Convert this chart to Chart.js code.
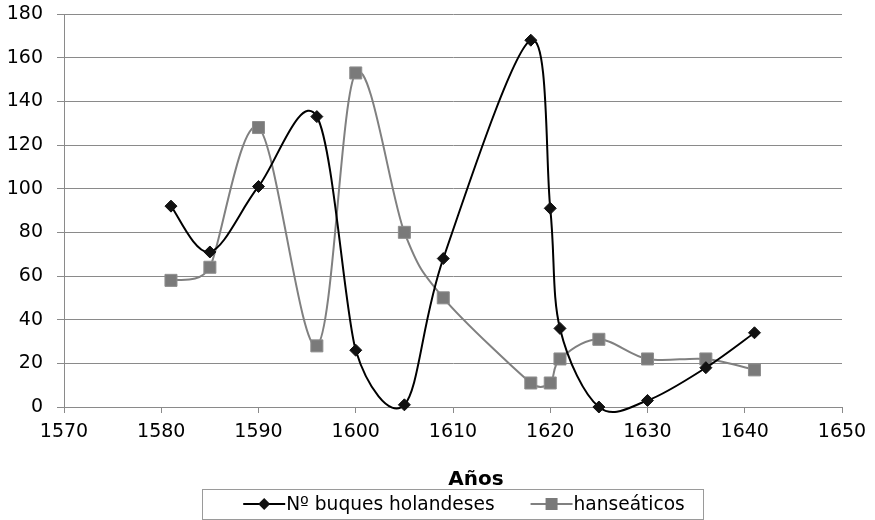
<!DOCTYPE html>
<html>
<head>
<meta charset="utf-8">
<script src="https://cdn.jsdelivr.net/npm/chart.js@4.4.1/dist/chart.umd.min.js"></script>
<style>
  html, body { margin: 0; padding: 0; background: #fff; }
  #caja { width: 875px; height: 520px; }
</style>
</head>
<body>
<div id="caja"><canvas id="graficaBuques" width="875" height="520"></canvas></div>
<script>
// datos
const anios = [1581, 1585, 1590, 1596, 1600, 1605, 1609, 1618, 1620, 1621, 1625, 1630, 1636, 1641];
const holandeses = [92, 71, 101, 133, 26, 1, 68, 168, 91, 36, 0, 3, 18, 34];
const hanseaticos = [58, 64, 128, 28, 153, 80, 50, 11, 11, 22, 31, 22, 22, 17];
const ticksX = [1570, 1580, 1590, 1600, 1610, 1620, 1630, 1640, 1650];
const ticksY = [0, 20, 40, 60, 80, 100, 120, 140, 160, 180];

const fuente = 'DejaVu Sans';

function puntos(valores) {
  return anios.map((a, i) => ({ x: a, y: valores[i] }));
}

// suavizado tipo hoja de calculo (catmull-rom 1/6) sobre los pixeles que da la escala
const suavizado = {
  id: 'suavizado',
  beforeDatasetsDraw(chart) {
    chart.data.datasets.forEach((d, di) => {
      const meta = chart.getDatasetMeta(di);
      const linea = meta.dataset;
      linea.updateControlPoints(chart.chartArea, 'x');
      const pts = meta.data;
      const n = pts.length;
      pts.forEach((p, i) => {
        const p0 = pts[Math.max(i - 1, 0)];
        const p2 = pts[Math.min(i + 1, n - 1)];
        let vx = (p2.x - p0.x) / 6;
        let vy = (p2.y - p0.y) / 6;
        const d01 = Math.hypot(p.x - p0.x, p.y - p0.y);
        const d12 = Math.hypot(p2.x - p.x, p2.y - p.y);
        const lim = Math.min(d01 || d12, d12 || d01) / 2;
        const largo = Math.hypot(vx, vy);
        if (largo > lim && largo > 0) {
          vx *= lim / largo;
          vy *= lim / largo;
        }
        p.cp1x = p.x - vx;
        p.cp1y = p.y - vy;
        p.cp2x = p.x + vx;
        p.cp2y = p.y + vy;
      });
      linea._path = undefined;
    });
  }
};

// titulo del eje y leyenda con recuadro, dibujados a mano
const leyendaCaja = {
  id: 'leyendaCaja',
  afterDraw(chart) {
    const ctx = chart.ctx;
    const area = chart.chartArea;
    const centro = (area.left + area.right) / 2;

    ctx.save();
    ctx.fillStyle = '#000';
    ctx.font = 'bold 20px "' + fuente + '"';
    ctx.textAlign = 'center';
    ctx.textBaseline = 'middle';
    ctx.fillText('Años', centro + 23, 480);

    ctx.font = '18.6px "' + fuente + '"';
    ctx.textAlign = 'left';
    const anchoIcono = 42;
    const sets = chart.data.datasets;
    const anchos = sets.map(d => ctx.measureText(d.label).width);
    const total = anchoIcono * 2 + 2 + anchos[0] + anchos[1] + 36;
    let x = centro + 11 - total / 2;
    const yTxt = 504;

    ctx.strokeStyle = '#9a9a9a';
    ctx.lineWidth = 1;
    ctx.strokeRect(Math.round(x - 41) + 0.5, 489.5, Math.round(total + 59), 30);

    sets.forEach((d, i) => {
      ctx.strokeStyle = d.borderColor;
      ctx.lineWidth = 2;
      ctx.beginPath();
      ctx.moveTo(x, yTxt);
      ctx.lineTo(x + anchoIcono, yTxt);
      ctx.stroke();
      const cx = x + anchoIcono / 2;
      ctx.fillStyle = d.pointBackgroundColor;
      ctx.beginPath();
      if (d.pointStyle === 'rectRot') {
        ctx.moveTo(cx, yTxt - 6);
        ctx.lineTo(cx + 6, yTxt);
        ctx.lineTo(cx, yTxt + 6);
        ctx.lineTo(cx - 6, yTxt);
        ctx.closePath();
      } else {
        ctx.rect(cx - 6, yTxt - 6, 12, 12);
      }
      ctx.fill();
      ctx.fillStyle = '#000';
      ctx.fillText(d.label, x + anchoIcono + 1, yTxt + 1);
      x += anchoIcono + 1 + anchos[i] + 36;
    });
    ctx.restore();
  }
};

const grafica = document.getElementById('graficaBuques').getContext('2d');

new Chart(grafica, {
  type: 'scatter',
  data: {
    datasets: [
      {
        label: 'Nº buques holandeses',
        data: puntos(holandeses),
        showLine: true,
        borderColor: '#000000',
        borderWidth: 2,
        tension: 0.4,
        pointStyle: 'rectRot',
        pointRadius: 6,
        pointBackgroundColor: '#111111',
        pointBorderColor: '#111111',
        pointBorderWidth: 1,
        clip: false,
        order: 1
      },
      {
        label: 'hanseáticos',
        data: puntos(hanseaticos),
        showLine: true,
        borderColor: '#808080',
        borderWidth: 2,
        tension: 0.4,
        pointStyle: 'rect',
        pointRadius: 8.5,
        pointBackgroundColor: '#7a7a7a',
        pointBorderColor: '#8e8e8e',
        pointBorderWidth: 1,
        clip: false,
        order: 2
      }
    ]
  },
  options: {
    responsive: false,
    animation: false,
    elements: { line: { capBezierPoints: false } },
    layout: { padding: { left: 0, right: 33, top: 14, bottom: 0 } },
    plugins: {
      legend: { display: false },
      tooltip: { enabled: false }
    },
    scales: {
      x: {
        type: 'linear',
        min: 1570,
        max: 1650,
        afterBuildTicks: (s) => { s.ticks = ticksX.map(v => ({ value: v })); },
        afterFit: (s) => { s.height = 113; s.paddingRight = 0; },
        ticks: {
          color: '#000',
          padding: 8,
          maxRotation: 0,
          font: { size: 19, family: fuente },
          callback: (v) => String(v)
        },
        grid: {
          drawOnChartArea: false,
          drawTicks: true,
          tickLength: 6,
          color: '#8a8a8a'
        },
        border: { color: '#8a8a8a', width: 1 }
      },
      y: {
        min: 0,
        max: 180,
        afterBuildTicks: (s) => { s.ticks = ticksY.map(v => ({ value: v })); },
        afterFit: (s) => { s.width = 64; s.paddingTop = 0; s.paddingBottom = 0; },
        ticks: {
          color: '#000',
          padding: 14,
          font: { size: 19, family: fuente },
          callback: (v) => String(v)
        },
        grid: {
          color: '#8a8a8a',
          tickLength: 7
        },
        border: { color: '#8a8a8a', width: 1 }
      }
    }
  },
  plugins: [suavizado, leyendaCaja]
});
</script>
</body>
</html>
